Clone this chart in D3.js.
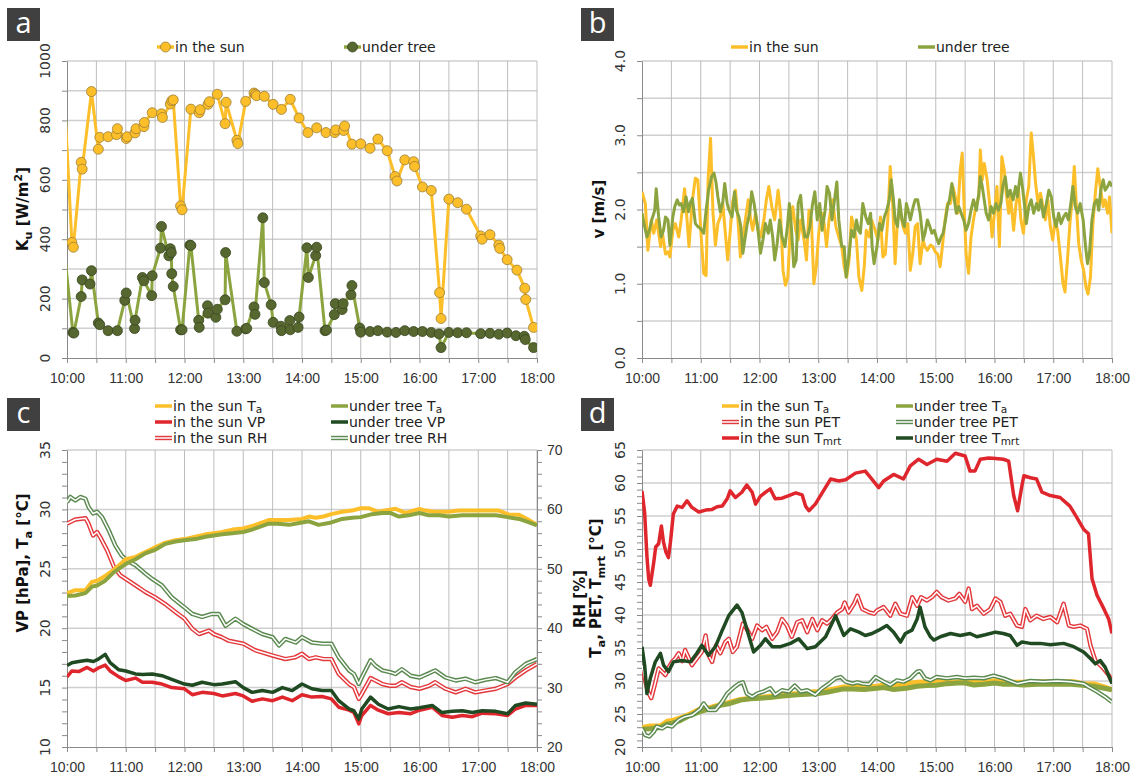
<!DOCTYPE html>
<html>
<head>
<meta charset="utf-8">
<script src="https://cdn.jsdelivr.net/npm/d3@7"></script>
<style>
body { margin: 0; background: #fff; }
svg { font-family: "DejaVu Sans", Verdana, sans-serif; }
.axis path, .axis line { stroke: #8a8a8a; }
.axis text { font-size: 14px; fill: #333; }
</style>
</head>
<body>
<div id="chart"></div>
<script>
// ---- data (minutes after 10:00, value) ----

// a: upward shortwave radiation K_u [W/m2]
var kuSun = [[-4,960],[5,389],[6.5,373],[14.5,659],[15.5,636],[25,897],[32,703],[33.5,743],[42,745],[50.5,752],[51.5,772],
  [60.5,739],[61.5,745],[69.5,758],[70.5,772],[78.5,779],[79,793],[87,826],[96.5,822],[97.5,810],[105.5,855],[107,866],
  [108.5,869],[116,512],[117.5,499],[126.5,838],[135,826],[136,836],[144,854],[145.5,863],[153.5,888],[161.5,789],[162.5,861],
  [173.5,733],[174.5,722],[182.5,864],[191,892],[192.5,888],[193.5,883],[201.5,881],[210.5,854],[219,837],[228,871],[237,808],
  [246,759],[255,775],[264.5,759],[273.5,759],[274.5,768],[282.5,766],[283.5,781],[291,720],[300,721],[309.5,706],[317.5,737],
  [327,698],[335,611],[337,596],[345,667],[354,661],[355,645],[363,576],[372,564],[380.5,220],[382,133],[390,535],[399,523],
  [408,501],[422.5,411],[424,400],[432,415],[441,380],[442,369],[449.5,331],[459.5,296],[467.5,235],[468.5,197],[476.5,103]];
var kuTree = [[-4,400],[6,86],[7,84],[14.5,207],[15.5,263],[23.5,249],[25,294],[32,118],[33.5,112],[42,92],[51.5,92],[59,194],
  [60.5,219],[69,99],[69.5,127],[77,271],[78.5,260],[86.5,210],[87,277],[95.5,370],[96.5,443],[104,344],[105.5,368],[106.5,355],
  [107,284],[108.5,241],[116,95],[117.5,95],[125.5,380],[126.5,379],[134.5,127],[135,103],[143.5,176],[144,151],[152,137],
  [153.5,164],[161.5,196],[162,355],[173.5,90],[182.5,98],[183.5,100],[191,172],[192,147],[200,472],[201.5,254],[208.5,179],
  [210.5,120],[218.5,107],[219,92],[227.5,126],[228,95],[236,103],[237,138],[245,371],[246.5,271],[254,345],[255,373],[263.5,92],
  [265,94],[273,146],[274,183],[281,163],[282,183],[290,213],[291,244],[299,101],[300,87],[309.5,89],[317.5,92],[327,87],[336,86],
  [345,92],[354,89],[363,89],[372,86],[380,81],[382,35],[390,86],[399,85],[408,85],[422.5,82],[432,83],[441,80],[449.5,84],
  [458.5,75],[467,73],[468,62],[476.5,35]];

// b: wind speed v [m/s]
var windSun = [[0,2.24],[3.4,2.08],[6,1.45],[9.5,1.86],[12,1.68],[15,1.86],[19,1.5],[20.5,1.72],[24,1.4],[26.5,1.43],[28.5,1.36],
  [31.5,1.72],[34,1.81],[37.5,1.63],[40,1.86],[43.5,2.28],[46,1.86],[48,1.5],[51.5,2.13],[54.5,2.42],[57,2.4],[60.5,1.63],[63,1.14],
  [65.5,1.11],[67.5,2.4],[70,2.96],[72.5,1.95],[75,1.52],[77.5,1.81],[80,1.9],[82.5,2.08],[85,1.7],[87.5,1.32],[90.5,1.77],[92.5,2.1],
  [95.5,2.26],[98,1.86],[100.5,1.36],[103,1.59],[105.5,1.86],[108.5,2.13],[111,1.86],[113,1.72],[116,1.95],[118.5,1.72],[121,1.63],
  [124.5,1.86],[127,2.13],[129.5,2.31],[132.5,2.04],[135.5,1.86],[139,2.26],[141.5,1.95],[144,1.18],[146.5,0.98],[149,1.09],
  [151.5,1.77],[154,2.04],[157,1.72],[159.5,1.59],[162,1.86],[165.5,1.59],[168,1.32],[170.5,1.99],[173,1.86],[175.5,1.0],[178,1.23],
  [180.5,1.68],[183.5,1.95],[186,1.81],[188.5,1.5],[191,1.86],[194.5,2.13],[198,1.77],[201,1.63],[204,1.5],[206.5,1.23],[209,1.09],
  [211.5,1.32],[214,1.9],[216.5,1.77],[219,1.59],[221.5,1.09],[224.5,0.91],[227,1.23],[229,1.72],[232,1.63],[234.5,1.86],[238,1.72],
  [241,1.59],[243.5,1.9],[246,1.36],[248.5,1.4],[251,1.86],[253.5,2.58],[256,2.08],[258.5,1.27],[261,1.86],[264,1.99],[266.5,1.77],
  [269,1.68],[271.5,1.81],[274,1.18],[276.5,1.4],[279,1.77],[281.5,1.81],[284,1.27],[287,1.59],[289,1.5],[291.5,1.45],[294.5,1.52],
  [297,1.5],[299.5,1.43],[302,1.4],[304.5,1.23],[307.5,1.59],[309.5,1.86],[312,2.08],[315,2.08],[317.5,2.31],[320,2.17],[322.5,1.95],
  [325,2.53],[327,2.76],[329,2.04],[331,1.4],[333.5,1.14],[336,1.63],[338.5,1.86],[341.5,2.08],[344,2.17],[345.5,2.8],[347.5,2.4],
  [349.5,2.62],[352.5,2.4],[355,2.08],[357.5,1.63],[360,1.95],[362.5,2.31],[365,1.5],[367.5,2.71],[370,2.53],[372,2.22],[374.5,1.95],
  [376.5,2.17],[379.5,1.72],[382,2.08],[384.5,2.26],[387,1.86],[389.5,1.68],[392.5,2.13],[395,2.31],[397.5,3.03],[399.5,2.76],
  [402,2.35],[404.5,2.08],[407,2.22],[409.5,2.04],[412,1.86],[414.5,2.13],[417,1.77],[419.5,1.59],[422,1.86],[424.5,1.72],[427,1.4],
  [430,1.0],[432,0.89],[434.5,1.32],[437,1.81],[439,2.08],[441.5,2.58],[443.5,2.08],[446,1.54],[448.5,1.32],[451,1.18],[453.5,0.95],
  [455.5,0.86],[458,1.09],[460.5,1.81],[463,2.22],[465.5,2.55],[468,2.31],[471,2.04],[473,2.13],[475.5,1.95],[477.5,2.17],[480,1.68]];
var windTree = [[0,1.95],[2.7,1.77],[5,1.63],[7.5,1.72],[10,1.86],[13,1.99],[14.5,2.28],[17,1.9],[19.5,1.63],[22,1.72],[24,1.9],
  [26.5,1.86],[28.5,1.52],[31.5,1.9],[33.5,2.04],[36,2.13],[38,2.06],[40,2.08],[42.5,1.97],[45,2.17],[47.5,1.97],[49.5,2.1],[51.5,2.15],
  [54.5,1.81],[57,1.77],[60,1.74],[63,1.68],[65.5,1.99],[68,2.26],[71,2.44],[73.5,2.49],[75.5,2.37],[77.5,2.17],[80,1.97],[82.5,2.1],
  [84.5,2.35],[87,2.08],[89,1.99],[92,1.9],[94.5,2.24],[96.5,1.99],[99,1.9],[101,1.77],[103,1.41],[105,1.59],[107.5,1.81],[110,1.95],
  [112,2.24],[114.5,2.08],[116.5,1.9],[118.5,1.72],[121,1.41],[123.5,1.59],[126,1.81],[129,1.68],[131,1.86],[133.5,1.63],[135.5,1.32],
  [138,1.54],[140.5,1.86],[143,1.63],[146,1.5],[148.5,1.77],[150.5,2.08],[152.5,1.77],[155,1.23],[157.5,1.32],[159.5,2.08],[162,2.19],
  [164.5,1.81],[166.5,1.63],[169,1.63],[171.5,1.77],[174,2.06],[176.5,2.24],[179,1.86],[181.5,2.08],[184,1.72],[187,1.99],[189,2.31],
  [191.5,2.22],[194,1.86],[197,2.17],[199,2.37],[201,1.86],[204,1.5],[206.5,1.5],[208.5,1.09],[211.5,1.41],[214,1.72],[216.5,1.63],
  [219,1.86],[221,1.72],[223,1.68],[225.5,2.08],[228.5,1.9],[231,1.81],[233.5,1.95],[235,1.5],[237,1.27],[240,1.5],[242.5,1.81],
  [245,1.72],[247.5,1.9],[250,1.99],[252.5,2.13],[254.5,2.4],[256.5,2.17],[258.5,1.86],[261,1.77],[263,2.13],[265.5,1.86],[268,1.77],
  [270,2.08],[272.5,1.95],[274,1.86],[277,2.04],[279,2.13],[281.5,2.13],[284,1.95],[287,1.59],[289,1.68],[291.5,1.86],[294,1.77],
  [296,1.68],[298.5,1.72],[300.5,1.63],[303,1.54],[305.5,1.63],[307.5,1.68],[310,1.86],[312,2.04],[314,2.13],[316.5,2.35],[318.5,2.17],
  [321,1.95],[323.5,2.04],[326,1.95],[328.5,1.86],[331,1.72],[333.5,1.81],[336,1.99],[338.5,2.13],[341.5,1.99],[344,2.22],[345.5,2.44],
  [347.5,2.31],[349.5,2.13],[351.5,1.95],[354,1.86],[356.5,2.04],[359,1.95],[361.5,2.08],[364,1.99],[366.5,2.08],[368.5,2.31],
  [371,2.44],[373.5,2.17],[376,2.26],[379,2.13],[381.5,2.31],[383.5,2.17],[386.5,2.49],[388.5,2.31],[390.5,2.08],[392.5,1.81],
  [395,2.04],[397.5,2.13],[400,1.95],[403,2.08],[405,1.99],[407.5,2.13],[410,1.9],[413,2.08],[415.5,2.26],[418,2.17],[420.5,1.9],
  [423,1.77],[425.5,1.95],[428,1.81],[430.5,1.9],[433,1.95],[435.5,1.86],[438,2.08],[440,2.31],[442.5,2.04],[445,1.95],[447.5,2.08],
  [450.5,1.86],[453,1.5],[455,1.27],[457,1.41],[459.5,1.86],[462,2.08],[464.5,2.13],[466.5,1.99],[468.5,2.26],[471,2.4],[473,2.26],
  [475.5,2.31],[477.5,2.37],[480,2.31]];

// c: air temperature Ta [°C], vapour pressure VP [hPa], relative humidity RH [%]
var taSun = [[0,22.95],[8.5,23.2],[18.8,23.2],[25.6,23.9],[30.7,24.0],[39,24.4],[47.7,24.9],[54.6,25.4],[60,25.8],[70,26.0],[80,26.4],
  [90,26.8],[100.6,27.2],[110.8,27.4],[120,27.5],[131,27.7],[141.5,27.9],[150,28.0],[158.6,28.1],[168.8,28.3],[180,28.4],[189,28.6],
  [196,28.8],[206,29.1],[215,29.1],[227,29.1],[240,29.2],[247,29.4],[254,29.3],[262,29.4],[270,29.6],[281,29.8],[291,29.9],[300,30.1],
  [308,30.1],[318,29.8],[325,29.9],[335.5,30.05],[345.7,29.7],[360,30.05],[366,29.9],[376,29.8],[390,29.8],[400,29.9],[410.5,29.9],
  [420,29.9],[431,29.9],[441,29.9],[450,29.6],[461.6,29.55],[472,29.1],[480,28.7]];
var taTree = [[0,22.7],[8.5,22.75],[18.8,22.95],[25.6,23.5],[30.7,23.6],[39,24.0],[47.7,24.7],[54.6,25.1],[60,25.4],[70,25.8],[80,26.3],
  [90,26.6],[100.6,27.1],[110.8,27.3],[120,27.4],[131,27.5],[141.5,27.7],[150,27.8],[158.6,27.9],[168.8,28.0],[180,28.1],[189,28.3],
  [196,28.5],[206,28.8],[215,28.8],[227,28.7],[240,28.9],[247,29.0],[257,28.7],[270,28.9],[281,29.2],[291,29.3],[300,29.35],
  [311.6,29.6],[322,29.7],[330,29.7],[339,29.4],[349,29.5],[360,29.7],[369.6,29.5],[380,29.5],[390,29.4],[403.7,29.5],[420,29.5],
  [438,29.5],[450,29.35],[461.6,29.2],[472,28.9],[480,28.65]];
var vpSun = [[0,15.9],[5,16.4],[12,16.35],[20.5,16.7],[27,16.4],[32,16.65],[39,16.9],[44,16.4],[53,15.9],[60,15.6],[70,15.8],[77,15.45],
  [87,15.45],[97,15.3],[107,15.0],[120,14.9],[128,14.4],[138,14.6],[150,14.5],[158.6,14.3],[172,14.5],[180,14.3],[189,13.85],
  [199.5,14.05],[210,13.9],[220,14.2],[230,13.9],[240,14.4],[250,14.2],[260.5,14.25],[270,14.05],[277.5,13.35],[288,13.1],[293,12.9],
  [298,11.95],[301,12.65],[310,13.5],[318,13.1],[328,12.8],[339,12.9],[351,12.8],[360,13.1],[373,13.35],[383,12.65],[393.5,12.5],
  [403.7,12.65],[414,12.55],[424,12.85],[438,12.8],[450,12.65],[458,13.2],[468.5,13.5],[480,13.5]];
var vpTree = [[0,16.85],[5,17.1],[12,17.2],[20.5,17.3],[27,17.2],[32,17.4],[39,17.8],[44,17.1],[53,16.5],[60,16.4],[70,16.15],[77,16.1],
  [87,16.15],[97,16.0],[107,15.7],[120,15.3],[128,15.2],[138,15.45],[150,15.25],[158.6,15.3],[172,15.5],[180,15.0],[189,14.6],
  [199.5,14.75],[210,14.6],[220,15.0],[230,14.75],[240,15.3],[250,14.9],[260.5,14.75],[270,14.75],[277.5,13.9],[288,13.2],[293,13.05],
  [298,12.35],[301,13.2],[310,14.2],[318,13.6],[328,13.2],[339,13.4],[351,13.2],[360,13.3],[373,13.5],[383,12.9],[393.5,13.0],
  [403.7,13.05],[414,12.9],[424,13.05],[438,13.0],[450,12.8],[458,13.5],[468.5,13.7],[480,13.6]];
var rhSun = [[0,57.6],[8.5,58.3],[19,58.5],[22,57.6],[26.6,55.6],[30.7,56.2],[34,55.3],[41,53.1],[48,50.3],[54.5,48.9],[60,48.3],
  [70,47.2],[80,46.1],[90,45.2],[100,44.1],[111,42.7],[120,41.6],[128,39.9],[135,39.0],[145,39.6],[150,39.0],[158,38.5],[165,37.9],
  [180,37.4],[192,36.3],[210,35.4],[223,34.8],[233,35.1],[240,35.7],[247,34.8],[254,35.1],[262,34.8],[270,34.8],[277.5,32.3],
  [288,30.6],[293,30.1],[298,28.1],[301,28.9],[310,31.6],[315,31.2],[322,30.6],[330,30.3],[335.5,30.3],[342,30.9],[351,30.1],
  [360,29.8],[369.6,30.3],[376,30.9],[386.6,29.8],[397,29.2],[407,29.8],[417,29.2],[427,29.5],[438,29.8],[450,30.6],[458,31.7],
  [468.5,32.9],[480,34.0]];
var rhTree = [[0,61.2],[3.4,62.1],[8.5,61.5],[13.6,62.1],[18.8,61.8],[22,60.4],[26.6,59.3],[30.7,59.6],[35.8,58.7],[42.6,56.5],
  [49.4,53.9],[56,52.2],[61.4,51.4],[70,50.6],[80,49.2],[87,48.3],[97,47.2],[107,45.2],[120,43.5],[128,42.4],[138,41.9],[148,42.4],
  [155,42.4],[162,40.4],[172,41.6],[180,40.7],[189,39.9],[199.5,39.0],[210,38.5],[216.5,37.1],[223,38.2],[233.6,37.6],[240,38.5],
  [250,37.6],[260.5,37.4],[270,37.4],[277.5,35.1],[288,32.9],[293,32.3],[298,30.6],[301,31.7],[310,34.6],[315,33.7],[322,32.9],
  [330,32.6],[335.5,32.3],[342,33.1],[351,32.0],[360,31.7],[369.6,32.4],[376,32.9],[386.6,31.7],[397,31.2],[407,31.5],[417,30.9],
  [427,31.3],[438,31.6],[450,30.9],[458,32.6],[468.5,34.0],[480,34.8]];

// d: mean radiant temperature Tmrt and PET [°C]
var tmrtSun = [[0,58.8],[2.7,55.5],[5,49.0],[6.8,45.5],[8.5,44.5],[10,46.0],[12,48.0],[14,50.3],[17,50.8],[19.8,53.5],[22,51.0],
  [24.5,49.5],[27,48.7],[29,51.0],[32,55.3],[36,56.5],[41,56.3],[46,57.3],[51,56.3],[58,55.6],[65,55.9],[71.6,56.0],[76.7,56.4],
  [82,56.5],[87,57.6],[90,58.8],[95.5,57.8],[102,58.6],[107,59.7],[112.5,58.6],[116,56.8],[121,58.0],[128,58.8],[131,59.1],[136,57.6],
  [143,57.7],[150,58.1],[157,58.5],[163.6,58.2],[167,56.5],[170.5,55.8],[177,56.8],[184,58.5],[192.6,60.6],[201,60.3],[208,60.5],
  [218,61.5],[228,61.8],[233.5,60.8],[241.7,59.3],[246.8,60.3],[257,61.3],[267,60.6],[274,62.6],[282.5,63.6],[291,62.8],[301,63.6],
  [311.5,63.3],[320,64.5],[330,64.1],[335,61.8],[340,61.8],[345.5,63.6],[354,63.8],[361,63.7],[369,63.6],[374.5,63.3],[379.6,58.1],
  [383.6,55.8],[388,59.6],[390,61.1],[396.6,60.8],[403,60.6],[408.5,58.6],[417,58.1],[427,57.8],[437,56.5],[444,54.8],[451,53.0],
  [456,52.3],[459.6,45.5],[464.7,43.0],[471.5,41.0],[476.6,39.4],[480,37.2]];
var tmrtTree = [[0,35.2],[2.7,32.4],[5,28.1],[8.5,30.4],[13.6,32.9],[18.8,34.2],[22,32.4],[27,31.4],[32,32.9],[41,33.1],[49.4,32.9],
  [56,34.2],[61,35.4],[68,33.9],[75,35.2],[82,37.7],[88.6,39.9],[97,41.5],[102,40.4],[109,36.9],[114,34.4],[121,35.4],[126,36.4],
  [133,35.2],[141.5,35.2],[151.7,35.7],[160,36.4],[168.7,34.9],[177,35.2],[187.5,36.7],[197.7,39.9],[206,36.9],[213,37.9],[221.6,37.4],
  [228,36.9],[235,37.2],[241.7,37.7],[250,38.4],[257,37.4],[264,35.9],[269,37.2],[275.7,37.7],[281,39.4],[284,41.2],[289,38.2],
  [294.5,36.7],[298,36.2],[304.7,36.7],[315,37.2],[325,36.9],[335,37.2],[342,36.7],[350.6,37.0],[361,37.4],[369,37.2],[376,36.9],
  [383,35.4],[388,35.9],[396.6,35.7],[406.8,35.7],[417,35.5],[430.6,35.7],[441,35.2],[451,34.4],[458,33.4],[463,32.6],[468,33.1],
  [473,32.1],[480,29.6]];
var petSun = [[0,32.4],[2.7,30.4],[6,28.4],[9.5,27.4],[13,29.4],[17,31.9],[20.5,31.4],[24,30.9],[26.6,31.9],[30.7,32.9],[34,33.4],
  [37.5,34.2],[41,33.0],[44,34.7],[48,33.4],[51,32.4],[56,33.4],[61,34.4],[65,36.9],[68,33.9],[71.6,32.9],[75.7,35.4],[80,34.2],
  [85,35.9],[88.6,36.4],[92.7,34.4],[97,35.2],[103,38.7],[107,37.9],[112.5,36.4],[117.6,38.4],[122.7,37.7],[127,38.2],[133,36.4],
  [138,37.4],[143,39.4],[148,38.4],[153,36.7],[158.5,38.9],[163.6,39.2],[168.7,37.4],[174,39.4],[179,37.7],[184,39.2],[189,38.7],
  [194,39.4],[199.4,40.4],[204.5,40.9],[207,41.9],[211,40.4],[216.5,41.7],[220,42.9],[225,40.9],[232,40.4],[237,40.2],[240,40.7],
  [246.8,41.2],[253.6,39.9],[258.7,41.7],[264,40.2],[270.6,39.9],[276,42.7],[281,41.4],[285,42.7],[291,42.2],[296,42.7],[301,43.5],
  [306,42.7],[313,42.2],[320,42.5],[324,43.2],[330,42.0],[333.6,44.0],[337,40.9],[342,41.4],[349,40.2],[355.7,40.9],[361,42.5],
  [366,42.0],[371,39.9],[376,40.2],[383,38.4],[388,38.2],[391.5,40.9],[396.6,39.2],[403,39.9],[410,39.4],[417,39.7],[424,38.9],
  [430.6,41.7],[436,38.4],[441,38.2],[447.6,38.4],[454.5,37.9],[458,35.4],[463,33.1],[470,32.1],[476.6,30.9],[480,29.9]];
var petTree = [[0,22.8],[3.4,21.8],[7.5,21.6],[12,22.3],[15,23.1],[20.5,22.8],[25.6,23.3],[30.7,23.1],[37.5,24.1],[44,24.6],[51,24.8],
  [59.7,25.8],[63,26.6],[68,25.6],[75,25.6],[82,26.9],[87,28.1],[93.7,29.0],[99,29.6],[103,29.8],[107,28.1],[112.5,27.6],[117.6,28.1],
  [124,28.4],[131,28.9],[136,27.9],[143,28.6],[150,28.4],[156,29.3],[162,28.4],[168.7,28.6],[177,27.9],[184,28.9],[191,29.6],
  [197.7,30.4],[203,30.6],[208,29.9],[215,29.6],[220,29.8],[225,29.6],[232,29.5],[238.6,30.6],[246.8,29.9],[253.6,29.4],[260.4,30.1],
  [267,29.9],[274,30.4],[281,31.4],[284,31.5],[289,30.4],[294.5,30.1],[301,30.6],[311.5,30.4],[321.7,30.6],[330,30.4],[339,30.5],
  [349,30.4],[359,30.8],[369,30.4],[383,29.6],[396.6,30.0],[410,29.9],[424,30.0],[437,29.9],[451,29.6],[456,29.1],[464.7,28.4],
  [473,27.6],[480,26.8]];

// ---- styling ----
var colSun = "#fcbf2a", colTree = "#8ca43f";
var colRed = "#e0262d", colDark = "#1f4a22", colRedRH = "#e3393d", colGreenRH = "#5b8a50";

var svg = d3.select("#chart").append("svg")
  .attr("width", 1138).attr("height", 776);

var fmtTime = function(m) { return d3.format("02d")(10 + m / 60) + ":00"; };

// rich text: parts are strings or {t, sub} / {t, sup}
function rich(sel, parts, subShift) {
  var shift = 0;
  var down = subShift || 4;
  parts.forEach(function(p) {
    var s = typeof p === "string" ? {t: p} : p;
    var want = s.sub ? down : (s.sup ? -6 : 0);
    sel.append("tspan").attr("dy", want - shift)
      .attr("font-size", (s.sub || s.sup) ? "0.75em" : null).text(s.t);
    shift = want;
  });
}

function panelLetter(x, y, letter) {
  svg.append("rect").attr("x", x).attr("y", y).attr("width", 33).attr("height", 33).attr("fill", "#404040");
  svg.append("text").attr("x", x + 16.5).attr("y", y + 25).attr("text-anchor", "middle")
    .style("font-family", "'Open Sans', sans-serif").style("font-size", "29px").attr("fill", "#fff").text(letter);
}

function makePanel(o) {
  var x = d3.scaleLinear().domain([0, 480]).range([o.left, o.right]);
  var y = d3.scaleLinear().domain(o.yDomain).range([o.bottom, o.top]);
  var g = svg.append("g");

  svg.append("clipPath").attr("id", "clip-" + o.name).append("rect")
    .attr("x", o.left).attr("y", o.top).attr("width", o.right - o.left).attr("height", o.bottom - o.top);

  //gridlines
  g.append("g").selectAll("line").data(o.yGrid).enter().append("line")
    .attr("x1", o.left).attr("x2", o.right)
    .attr("y1", function(d) { return y(d); }).attr("y2", function(d) { return y(d); })
    .attr("stroke", "#cfcfcf").attr("stroke-width", 1.5);
  g.append("g").selectAll("line").data(d3.range(30, 481, 30)).enter().append("line")
    .attr("x1", function(d) { return x(d); }).attr("x2", function(d) { return x(d); })
    .attr("y1", o.top).attr("y2", o.bottom)
    .attr("stroke", "#bdbdbd").attr("stroke-width", 1);

  //x axis
  g.append("g").attr("class", "axis")
    .attr("transform", "translate(0," + o.bottom + ")")
    .call(d3.axisBottom(x).tickValues(d3.range(0, 481, 30)).tickSize(5).tickSizeOuter(0).tickPadding(10)
      .tickFormat(function(d) { return d % 60 ? "" : fmtTime(d); }));

  //y axis (ticks only, labels rotated)
  g.append("g").attr("class", "axis")
    .attr("transform", "translate(" + o.left + ",0)")
    .call(d3.axisLeft(y).tickValues(o.yTicks).tickSize(5).tickSizeOuter(0).tickFormat(""));
  g.append("g").selectAll("text").data(o.yLabels).enter().append("text")
    .attr("transform", function(d) { return "translate(" + (o.left - 22) + "," + y(d) + ") rotate(-90)"; })
    .attr("text-anchor", "middle").attr("dy", "0.35em")
    .style("font-size", "14px").attr("fill", "#333")
    .text(o.yFormat);

  //axis title
  var t = svg.append("text")
    .attr("transform", "translate(" + o.titleX + "," + o.titleY + ") rotate(-90)")
    .attr("text-anchor", "middle").attr("dy", "0.35em")
    .style("font-size", "15px").style("font-weight", "bold").attr("fill", "#111");
  rich(t, o.title);

  var plot = svg.append("g").attr("clip-path", "url(#clip-" + o.name + ")");
  return {x: x, y: y, plot: plot};
}

function drawLine(p, data, color, width, yScale) {
  var ys = yScale || p.y;
  var line = d3.line().x(function(d) { return p.x(d[0]); }).y(function(d) { return ys(d[1]); });
  p.plot.append("path").datum(data).attr("d", line)
    .attr("fill", "none").attr("stroke", color).attr("stroke-width", width)
    .attr("stroke-linejoin", "round");
}

function drawDouble(p, data, color, yScale) {
  drawLine(p, data, color, 4.4, yScale);
  drawLine(p, data, "#fff", 1.5, yScale);
}

function legendItem(x, y, kind, color, label, mfill, mstroke) {
  var g = svg.append("g");
  if (kind === "double") {
    g.append("line").attr("x1", x).attr("x2", x + 17).attr("y1", y).attr("y2", y).attr("stroke", color).attr("stroke-width", 4.4);
    g.append("line").attr("x1", x).attr("x2", x + 17).attr("y1", y).attr("y2", y).attr("stroke", "#fff").attr("stroke-width", 1.5);
  } else {
    g.append("line").attr("x1", x).attr("x2", x + 17).attr("y1", y).attr("y2", y).attr("stroke", color).attr("stroke-width", 3.5);
  }
  if (kind === "marker") {
    g.append("circle").attr("cx", x + 8.5).attr("cy", y).attr("r", 5)
      .attr("fill", mfill).attr("stroke", mstroke).attr("stroke-width", 0.8);
  }
  var t = g.append("text").attr("x", x + 18).attr("y", y + 5).style("font-size", "14px").attr("fill", "#222");
  rich(t, label, 1.5);
}

// ---- panel a ----
panelLetter(7, 8, "a");
var pa = makePanel({name: "a", left: 67, right: 537, top: 61, bottom: 358, yDomain: [0, 1000],
  yGrid: d3.range(100, 1001, 100), yTicks: d3.range(0, 1001, 100), yLabels: d3.range(0, 1001, 200),
  yFormat: function(d) { return d; },
  titleX: 28, titleY: 209, title: ["K", {t: "u", sub: true}, " [W/m", {t: "2", sup: true}, "]"]});

drawLine(pa, kuSun, colSun, 3);
drawLine(pa, kuTree, colTree, 3);
pa.plot.selectAll(".mSun").data(kuSun.filter(function(d) { return d[0] >= 0; })).enter().append("circle")
  .attr("cx", function(d) { return pa.x(d[0]); }).attr("cy", function(d) { return pa.y(d[1]); }).attr("r", 5)
  .attr("fill", colSun).attr("stroke", "#9c7d35").attr("stroke-width", 0.8);
pa.plot.selectAll(".mTree").data(kuTree.filter(function(d) { return d[0] >= 0; })).enter().append("circle")
  .attr("cx", function(d) { return pa.x(d[0]); }).attr("cy", function(d) { return pa.y(d[1]); }).attr("r", 5)
  .attr("fill", "#56672f").attr("stroke", "#39461f").attr("stroke-width", 0.8);
legendItem(157, 47, "marker", colSun, ["in the sun"], colSun, "#9c7d35");
legendItem(344, 47, "marker", colTree, ["under tree"], "#56672f", "#39461f");

// ---- panel b ----
panelLetter(581, 8, "b");
var pb = makePanel({name: "b", left: 642, right: 1112, top: 61, bottom: 358, yDomain: [0, 4],
  yGrid: d3.range(0.5, 4.01, 0.5), yTicks: d3.range(0, 4.01, 0.5), yLabels: [0, 1, 2, 3, 4],
  yFormat: d3.format(".1f"),
  titleX: 604, titleY: 209, title: ["v [m/s]"]});
drawLine(pb, windSun, colSun, 3);
drawLine(pb, windTree, colTree, 3);
legendItem(731, 47, "line", colSun, ["in the sun"]);
legendItem(918, 47, "line", colTree, ["under tree"]);

// ---- panel c ----
panelLetter(7, 398, "c");
var pc = makePanel({name: "c", left: 67, right: 537, top: 450, bottom: 747, yDomain: [10, 35],
  yGrid: d3.range(15, 35.1, 5), yTicks: d3.range(10, 35.1, 1), yLabels: d3.range(10, 35.1, 5),
  yFormat: function(d) { return d; },
  titleX: 28, titleY: 563, title: ["VP [hPa], T", {t: "a", sub: true}, " [°C]"]});
var yRH = d3.scaleLinear().domain([20, 70]).range([747, 450]);
svg.append("g").attr("class", "axis")
  .attr("transform", "translate(537,0)")
  .call(d3.axisRight(yRH).tickValues(d3.range(20, 70.1, 2)).tickSize(5).tickSizeOuter(0).tickPadding(5)
    .tickFormat(function(d) { return d % 10 ? "" : d; }));
svg.append("text").attr("transform", "translate(580,599) rotate(-90)")
  .attr("text-anchor", "middle").attr("dy", "0.35em")
  .style("font-size", "15px").style("font-weight", "bold").attr("fill", "#111").text("RH [%]");

drawDouble(pc, rhSun, colRedRH, yRH);
drawDouble(pc, rhTree, colGreenRH, yRH);
drawLine(pc, vpSun, colRed, 3.5);
drawLine(pc, vpTree, colDark, 3.5);
drawLine(pc, taSun, colSun, 4);
drawLine(pc, taTree, colTree, 4);

legendItem(155, 406, "line", colSun, ["in the sun T", {t: "a", sub: true}]);
legendItem(331, 406, "line", colTree, ["under tree T", {t: "a", sub: true}]);
legendItem(155, 422, "line", colRed, ["in the sun VP"]);
legendItem(331, 422, "line", colDark, ["under tree VP"]);
legendItem(155, 438, "double", colRedRH, ["in the sun RH"]);
legendItem(331, 438, "double", colGreenRH, ["under tree RH"]);

// ---- panel d ----
panelLetter(581, 398, "d");
var pd = makePanel({name: "d", left: 642, right: 1112, top: 450, bottom: 747, yDomain: [20, 65],
  yGrid: d3.range(25, 65.1, 5), yTicks: d3.range(20, 65.1, 1), yLabels: d3.range(20, 65.1, 5),
  yFormat: function(d) { return d; },
  titleX: 601, titleY: 588, title: ["T", {t: "a", sub: true}, ", PET, T", {t: "mrt", sub: true}, " [°C]"]});

drawLine(pd, taSun, colSun, 5);
drawLine(pd, taTree, colTree, 5);
drawDouble(pd, petSun, colRedRH);
drawDouble(pd, petTree, colGreenRH);
drawLine(pd, tmrtSun, colRed, 3.5);
drawLine(pd, tmrtTree, colDark, 3.5);

legendItem(722, 406, "line", colSun, ["in the sun T", {t: "a", sub: true}]);
legendItem(896, 406, "line", colTree, ["under tree T", {t: "a", sub: true}]);
legendItem(722, 422, "double", colRedRH, ["in the sun PET"]);
legendItem(896, 422, "double", colGreenRH, ["under tree PET"]);
legendItem(722, 438, "line", colRed, ["in the sun T", {t: "mrt", sub: true}]);
legendItem(896, 438, "line", colDark, ["under tree T", {t: "mrt", sub: true}]);
</script>
</body>
</html>
